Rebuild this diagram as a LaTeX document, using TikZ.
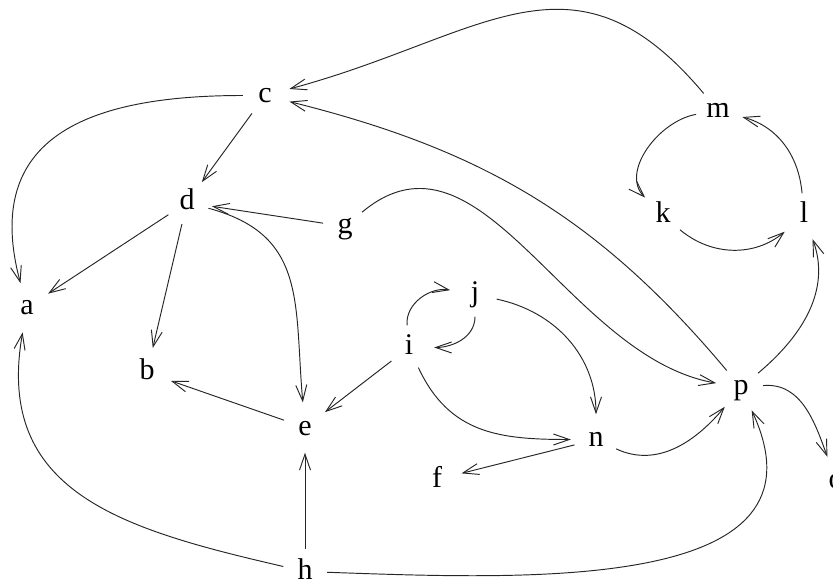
\documentclass[tikz,border=0pt]{standalone}
\usepackage{fontspec}
\setmainfont{Liberation Serif}
\usetikzlibrary{arrows.meta}

\begin{document}
\begin{tikzpicture}[x=1pt,y=1pt,
        vtx/.style={circle, inner sep=0pt, minimum size=44pt, anchor=base,
            text height=21pt, text depth=6pt, font=\fontsize{30}{36}\selectfont},
        lnk/.style={line width=0.95pt, draw=black!85, -{Straight Barb[length=16pt,width=11pt]}, shorten >=3pt}]
        \useasboundingbox (0,0) rectangle (833,579);

        % Вершины
        \node[vtx] (a) at (27,264)  {a};
        \node[vtx] (b) at (147,199) {b};
        \node[vtx] (c) at (265,476) {c};
        \node[vtx] (d) at (187,369) {d};
        \node[vtx] (e) at (305,144) {e};
        \node[vtx] (f) at (437,92)  {f};
        \node[vtx] (g) at (345,345) {g};
        \node[vtx] (h) at (305,0)   {h};
        \node[vtx] (i) at (409,224) {i};
        \node[vtx] (j) at (475,277) {j};
        \node[vtx] (k) at (663,356) {k};
        \node[vtx] (l) at (804,356) {l};
        \node[vtx] (m) at (718,461) {m};
        \node[vtx] (n) at (596,132) {n};
        \node[vtx] (o) at (836,91)  {o};
        \node[vtx] (p) at (741,184) {p};

        % Прямые рёбра
        \draw[lnk] (c) -- (d);
        \draw[lnk] (d) -- (a);
        \draw[lnk] (d) -- (b);
        \draw[lnk] (g) -- (d);
        \draw[lnk] (i) -- (e);
        \draw[lnk] (e) -- (b);
        \draw[lnk] (h) -- (e);
        \draw[lnk] (n) -- (f);

        % Дуги
        \draw[lnk] (m) to[out=130,in=15,looseness=1.25] (c);
        \draw[lnk] (p) to[out=130,in=-14] (c);
        \draw[lnk] (c) to[out=180,in=105,looseness=1.35] (a);
        \draw[lnk] (d) to[out=-15,in=95,looseness=1.2] (e);
        \draw[lnk] (g) to[out=40,in=170] (p);
        \draw[lnk] (i) to[out=95,in=170] (j);
        \draw[lnk] (j) to[out=-90,in=0] (i);
        \draw[lnk] (j) to[out=-12,in=90] (n);
        \draw[lnk] (i) to[out=-65,in=180,looseness=1.1] (n);
        \draw[lnk] (h) to[out=167,in=-100,looseness=1.2] (a);
        \draw[lnk] (h) to[out=-2,in=-65,looseness=1.15] (p);
        \draw[lnk] (n) to[out=-25,in=-130] (p);
        \draw[lnk] (p) to[out=5,in=110] (o);
        \draw[lnk] (p) to[out=40,in=-70] (l);
        \draw[lnk] (m) to[out=190,in=135] (k);
        \draw[lnk] (k) to[out=-40,in=-140] (l);
        \draw[lnk] (l) to[out=95,in=-15] (m);
\end{tikzpicture}
\end{document}
